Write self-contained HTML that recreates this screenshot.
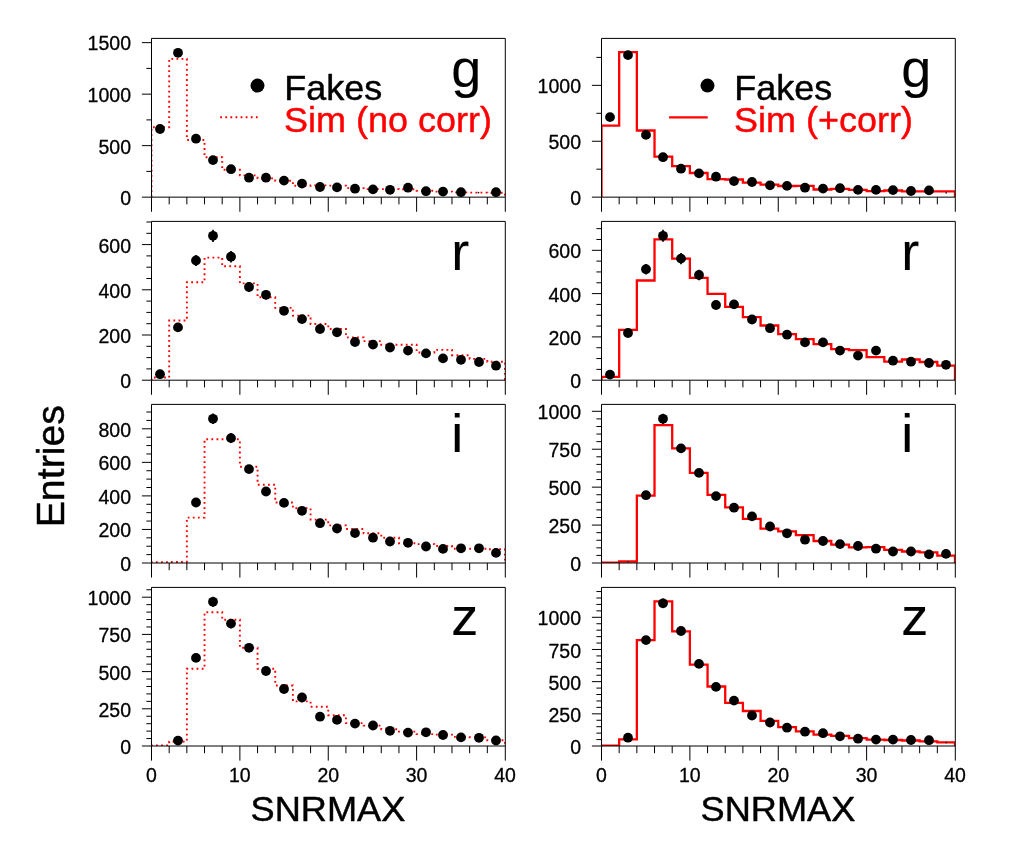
<!DOCTYPE html>
<html lang="en"><head><meta charset="utf-8"><title>SNRMAX distributions: Fakes vs Sim</title>
<style>html,body{margin:0;padding:0;background:#fff}svg{display:block}text{font-family:'Liberation Sans', sans-serif;fill:#000;stroke:#000;stroke-width:.45px;stroke-linejoin:round}.tk{stroke-width:.3px}.bd{stroke-width:.1px}.tk{font-size:19.5px}.ti{font-size:36.2px}.lg{font-size:36px}.bd{font-size:54px}.ax{stroke:#000;stroke-width:1;fill:none}.hd{stroke:#ff0000;stroke-width:1.9;fill:none;stroke-dasharray:1.8 3.3;stroke-linejoin:miter}.hs{stroke:#ff0000;stroke-width:2.3;fill:none;stroke-linejoin:miter}.eb{stroke:#000;stroke-width:1.7}</style></head><body>
<svg width="1034" height="859" viewBox="0 0 1034 859">
<rect width="1034" height="859" fill="#fff"/>
<g id="p00">
<text class="tk" x="131" y="204.65" text-anchor="end">0</text>
<text class="tk" x="131" y="154.15" text-anchor="end">500</text>
<text class="tk" x="131" y="101.65" text-anchor="end">1000</text>
<text class="tk" x="131" y="50.15" text-anchor="end">1500</text>
<clipPath id="c00"><rect x="151.5" y="38.4" width="353.5" height="158.75"/></clipPath>
<path class="hd" clip-path="url(#c00)" d="M151.5 197.15V127.2H169.18V58.9H186.85V140H204.53V157.2H222.2V169.8H239.88V175.4H257.55V178.4H275.23V180.8H292.9V185.8H310.58V185.4H328.25V185.6H345.93V188.1H363.6V189.1H381.27V189.1H398.95V189.3H416.62V190.8H434.3V191.6H451.98V192.4H469.65V192.6H487.32V192.8H505V197.15"/>
<path class="ax" d="M151.5 38.4H505.3V197.15H151.5Z"/>
<path class="ax" d="M141.9 197.15h9.6M146.4 171.4h5.1M141.9 145.65h9.6M146.4 119.9h5.1M141.9 94.15h9.6M146.4 68.4h5.1M141.9 42.65h9.6M151.5 197.15v14.6M169.18 197.15v7.2M186.85 197.15v7.2M204.53 197.15v7.2M222.2 197.15v7.2M239.88 197.15v14.6M257.55 197.15v7.2M275.23 197.15v7.2M292.9 197.15v7.2M310.58 197.15v7.2M328.25 197.15v14.6M345.93 197.15v7.2M363.6 197.15v7.2M381.27 197.15v7.2M398.95 197.15v7.2M416.62 197.15v14.6M434.3 197.15v7.2M451.98 197.15v7.2M469.65 197.15v7.2M487.32 197.15v7.2M505.3 197.15v14.6"/>
<g fill="#000"><circle cx="160" cy="129" r="4.9"/><circle cx="178" cy="52.8" r="4.9"/><circle cx="196" cy="138.7" r="4.9"/><circle cx="213" cy="160.1" r="4.9"/><circle cx="231" cy="169.2" r="4.9"/><circle cx="249" cy="177.7" r="4.9"/><circle cx="266" cy="177.7" r="4.9"/><circle cx="284" cy="180.6" r="4.9"/><circle cx="302" cy="183.6" r="4.9"/><circle cx="320" cy="187" r="4.9"/><circle cx="337" cy="187.4" r="4.9"/><circle cx="355" cy="188.7" r="4.9"/><circle cx="373" cy="189.4" r="4.9"/><circle cx="390" cy="189.8" r="4.9"/><circle cx="408" cy="187.7" r="4.9"/><circle cx="426" cy="191.2" r="4.9"/><circle cx="443" cy="191.6" r="4.9"/><circle cx="461" cy="192.2" r="4.9"/><circle cx="496" cy="192.2" r="4.9"/></g>
<circle cx="478.49" cy="192.6" r="0.9" fill="#222"/>
<text class="bd" x="451.2" y="87.4">g</text>
</g>
<g id="p01">
<text class="tk" x="131" y="388.1" text-anchor="end">0</text>
<text class="tk" x="131" y="342.9" text-anchor="end">200</text>
<text class="tk" x="131" y="298.3" text-anchor="end">400</text>
<text class="tk" x="131" y="253.1" text-anchor="end">600</text>
<clipPath id="c01"><rect x="151.5" y="221.4" width="353.5" height="158.8"/></clipPath>
<path class="hd" clip-path="url(#c01)" d="M151.5 380.2V377.5H169.18V320.5H186.85V282.2H204.53V257.6H222.2V266.3H239.88V283.4H257.55V297.3H275.23V307.9H292.9V315.6H310.58V324H328.25V329H345.93V337.4H363.6V341.1H381.27V344.8H398.95V344.8H416.62V352.5H434.3V349.9H451.98V355.2H469.65V358.9H487.32V361.7H505V380.2"/>
<path class="ax" d="M151.5 221.4H505.3V380.2H151.5Z"/>
<path class="ax" d="M141.9 380.2h9.6M146.4 368.9h5.1M146.4 357.6h5.1M146.4 346.3h5.1M141.9 335h9.6M146.4 323.7h5.1M146.4 312.4h5.1M146.4 301.1h5.1M141.9 289.8h9.6M146.4 278.5h5.1M146.4 267.2h5.1M146.4 255.9h5.1M141.9 244.6h9.6M146.4 233.3h5.1M146.4 222h5.1M151.5 380.2v14.6M169.18 380.2v7.2M186.85 380.2v7.2M204.53 380.2v7.2M222.2 380.2v7.2M239.88 380.2v14.6M257.55 380.2v7.2M275.23 380.2v7.2M292.9 380.2v7.2M310.58 380.2v7.2M328.25 380.2v14.6M345.93 380.2v7.2M363.6 380.2v7.2M381.27 380.2v7.2M398.95 380.2v7.2M416.62 380.2v14.6M434.3 380.2v7.2M451.98 380.2v7.2M469.65 380.2v7.2M487.32 380.2v7.2M505.3 380.2v14.6"/>
<path class="eb" d="M196 254.9V266.1M213 229.69V241.91M231 251.02V262.38M249 282.01V291.99M266 290.01V299.59"/>
<g fill="#000"><circle cx="160" cy="374.2" r="4.9"/><circle cx="178" cy="327.4" r="4.9"/><circle cx="196" cy="260.5" r="4.9"/><circle cx="213" cy="235.8" r="4.9"/><circle cx="231" cy="256.7" r="4.9"/><circle cx="249" cy="287" r="4.9"/><circle cx="266" cy="294.8" r="4.9"/><circle cx="284" cy="310.8" r="4.9"/><circle cx="302" cy="319.1" r="4.9"/><circle cx="320" cy="329" r="4.9"/><circle cx="337" cy="332.3" r="4.9"/><circle cx="355" cy="342" r="4.9"/><circle cx="373" cy="344.6" r="4.9"/><circle cx="390" cy="347.5" r="4.9"/><circle cx="408" cy="350.6" r="4.9"/><circle cx="426" cy="353.4" r="4.9"/><circle cx="443" cy="358.4" r="4.9"/><circle cx="461" cy="359.8" r="4.9"/><circle cx="479" cy="362" r="4.9"/><circle cx="496" cy="365.7" r="4.9"/></g>
<text class="bd" x="451.2" y="270">r</text>
</g>
<g id="p02">
<text class="tk" x="131" y="570.9" text-anchor="end">0</text>
<text class="tk" x="131" y="537.35" text-anchor="end">200</text>
<text class="tk" x="131" y="503.8" text-anchor="end">400</text>
<text class="tk" x="131" y="469.85" text-anchor="end">600</text>
<text class="tk" x="131" y="437.3" text-anchor="end">800</text>
<clipPath id="c02"><rect x="151.5" y="404.4" width="353.5" height="158.6"/></clipPath>
<path class="hd" clip-path="url(#c02)" d="M151.5 563V562.3H169.18V562H186.85V517.6H204.53V439.3H222.2V439.3H239.88V466.7H257.55V484.7H275.23V502.5H292.9V508.3H310.58V519.6H328.25V525.4H345.93V529H363.6V533.3H381.27V537.7H398.95V543.2H416.62V544.1H434.3V546H451.98V548.7H469.65V548.7H487.32V549.3H505V563"/>
<path class="ax" d="M151.5 404.4H505.3V563H151.5Z"/>
<path class="ax" d="M141.9 563h9.6M146.4 554.61h5.1M146.4 546.23h5.1M146.4 537.84h5.1M141.9 529.45h9.6M146.4 521.06h5.1M146.4 512.67h5.1M146.4 504.29h5.1M141.9 495.9h9.6M146.4 487.51h5.1M146.4 479.12h5.1M146.4 470.74h5.1M141.9 462.35h9.6M146.4 453.96h5.1M146.4 445.57h5.1M146.4 437.19h5.1M141.9 428.8h9.6M146.4 420.41h5.1M146.4 412.02h5.1M151.5 563v14.6M169.18 563v7.2M186.85 563v7.2M204.53 563v7.2M222.2 563v7.2M239.88 563v14.6M257.55 563v7.2M275.23 563v7.2M292.9 563v7.2M310.58 563v7.2M328.25 563v14.6M345.93 563v7.2M363.6 563v7.2M381.27 563v7.2M398.95 563v7.2M416.62 563v14.6M434.3 563v7.2M451.98 563v7.2M469.65 563v7.2M487.32 563v7.2M505.3 563v14.6"/>
<path class="eb" d="M213 413.48V424.12M231 433.12V443.08"/>
<g fill="#000"><circle cx="196" cy="502.5" r="4.9"/><circle cx="213" cy="418.8" r="4.9"/><circle cx="231" cy="438.1" r="4.9"/><circle cx="249" cy="469.1" r="4.9"/><circle cx="266" cy="491.5" r="4.9"/><circle cx="284" cy="502.9" r="4.9"/><circle cx="302" cy="510.8" r="4.9"/><circle cx="320" cy="523.2" r="4.9"/><circle cx="337" cy="528.5" r="4.9"/><circle cx="355" cy="533.1" r="4.9"/><circle cx="373" cy="537.7" r="4.9"/><circle cx="390" cy="541.5" r="4.9"/><circle cx="408" cy="542.8" r="4.9"/><circle cx="426" cy="546.5" r="4.9"/><circle cx="443" cy="548.9" r="4.9"/><circle cx="461" cy="548.3" r="4.9"/><circle cx="479" cy="548.3" r="4.9"/><circle cx="496" cy="552.9" r="4.9"/></g>
<text class="bd" x="451.2" y="452.3">i</text>
</g>
<g id="p03">
<text class="tk" x="131" y="753.9" text-anchor="end">0</text>
<text class="tk" x="131" y="716.7" text-anchor="end">250</text>
<text class="tk" x="131" y="679.5" text-anchor="end">500</text>
<text class="tk" x="131" y="641.9" text-anchor="end">750</text>
<text class="tk" x="131" y="604.7" text-anchor="end">1000</text>
<clipPath id="c03"><rect x="151.5" y="587.4" width="353.5" height="158.6"/></clipPath>
<path class="hd" clip-path="url(#c03)" d="M151.5 746V745.4H169.18V741.6H186.85V668.7H204.53V612.2H222.2V619.8H239.88V647.8H257.55V668.7H275.23V685.5H292.9V701.4H310.58V706.8H328.25V715.3H345.93V723.1H363.6V725.6H381.27V729.3H398.95V731.6H416.62V734.1H434.3V734.6H451.98V736.9H469.65V737.4H487.32V740.3H505V746"/>
<path class="ax" d="M151.5 587.4H505.3V746H151.5Z"/>
<path class="ax" d="M141.9 746h9.6M146.4 738.56h5.1M146.4 731.12h5.1M146.4 723.68h5.1M146.4 716.24h5.1M141.9 708.8h9.6M146.4 701.36h5.1M146.4 693.92h5.1M146.4 686.48h5.1M146.4 679.04h5.1M141.9 671.6h9.6M146.4 664.16h5.1M146.4 656.72h5.1M146.4 649.28h5.1M146.4 641.84h5.1M141.9 634.4h9.6M146.4 626.96h5.1M146.4 619.52h5.1M146.4 612.08h5.1M146.4 604.64h5.1M141.9 597.2h9.6M146.4 589.76h5.1M151.5 746v14.6M169.18 746v7.2M186.85 746v7.2M204.53 746v7.2M222.2 746v7.2M239.88 746v14.6M257.55 746v7.2M275.23 746v7.2M292.9 746v7.2M310.58 746v7.2M328.25 746v14.6M345.93 746v7.2M363.6 746v7.2M381.27 746v7.2M398.95 746v7.2M416.62 746v14.6M434.3 746v7.2M451.98 746v7.2M469.65 746v7.2M487.32 746v7.2M505.3 746v14.6"/>
<path class="eb" d="M213 596.77V606.83M231 618.93V628.27"/>
<g fill="#000"><circle cx="178" cy="740.6" r="4.9"/><circle cx="196" cy="657.9" r="4.9"/><circle cx="213" cy="601.8" r="4.9"/><circle cx="231" cy="623.6" r="4.9"/><circle cx="249" cy="647.8" r="4.9"/><circle cx="266" cy="671" r="4.9"/><circle cx="284" cy="689" r="4.9"/><circle cx="302" cy="697.5" r="4.9"/><circle cx="320" cy="716.7" r="4.9"/><circle cx="337" cy="719.9" r="4.9"/><circle cx="355" cy="723.6" r="4.9"/><circle cx="373" cy="725.5" r="4.9"/><circle cx="390" cy="730.8" r="4.9"/><circle cx="408" cy="732.6" r="4.9"/><circle cx="426" cy="732.3" r="4.9"/><circle cx="443" cy="735" r="4.9"/><circle cx="461" cy="737.4" r="4.9"/><circle cx="479" cy="737.8" r="4.9"/><circle cx="496" cy="740.5" r="4.9"/></g>
<text class="bd" x="451.2" y="635.2">z</text>
</g>
<g id="legend0">
<circle cx="257.5" cy="85.6" r="7" fill="#000"/>
<text class="lg" transform="translate(284.3 99.9) scale(1 .965)">Fakes</text>
<path class="hd" d="M220.2 117.3H257.7"/>
<text class="lg" transform="translate(284.1 131.9) scale(1 .965)" style="fill:#ff0000;stroke:#ff0000">Sim (no corr)</text>
</g>
<text class="tk" x="151.5" y="782" text-anchor="middle">0</text>
<text class="tk" x="239.88" y="782" text-anchor="middle">10</text>
<text class="tk" x="328.25" y="782" text-anchor="middle">20</text>
<text class="tk" x="416.62" y="782" text-anchor="middle">30</text>
<text class="tk" x="505" y="782" text-anchor="middle">40</text>
<text class="ti" transform="translate(327.9 820.7) scale(1 .985)" text-anchor="middle">SNRMAX</text>
<g id="p10">
<text class="tk" x="581" y="205.05" text-anchor="end">0</text>
<text class="tk" x="581" y="149.15" text-anchor="end">500</text>
<text class="tk" x="581" y="92.85" text-anchor="end">1000</text>
<clipPath id="c10"><rect x="601.5" y="38.4" width="353.5" height="158.75"/></clipPath>
<path class="hs" clip-path="url(#c10)" d="M601.5 197.15V125.7H619.17V52.2H636.85V130.5H654.52V156.6H672.2V166.2H689.88V173H707.55V179.2H725.23V179.5H742.9V182.6H760.58V184.6H778.25V186H795.92V185.9H813.6V189.5H831.27V188.9H848.95V189.8H866.62V191.1H884.3V190.5H901.98V191.4H919.65V191.4H937.33V191.4H955V197.15"/>
<path class="ax" d="M601.5 38.4H955.3V197.15H601.5Z"/>
<path class="ax" d="M591.9 197.15h9.6M596.4 169.2h5.1M591.9 141.25h9.6M596.4 113.3h5.1M591.9 85.35h9.6M596.4 57.4h5.1M601.5 197.15v14.6M619.17 197.15v7.2M636.85 197.15v7.2M654.52 197.15v7.2M672.2 197.15v7.2M689.88 197.15v14.6M707.55 197.15v7.2M725.23 197.15v7.2M742.9 197.15v7.2M760.58 197.15v7.2M778.25 197.15v14.6M795.92 197.15v7.2M813.6 197.15v7.2M831.27 197.15v7.2M848.95 197.15v7.2M866.62 197.15v14.6M884.3 197.15v7.2M901.98 197.15v7.2M919.65 197.15v7.2M937.33 197.15v7.2M955.3 197.15v14.6"/>
<g fill="#000"><circle cx="610" cy="117.1" r="4.9"/><circle cx="628" cy="55.1" r="4.9"/><circle cx="646" cy="134.9" r="4.9"/><circle cx="663" cy="157.2" r="4.9"/><circle cx="681" cy="168.7" r="4.9"/><circle cx="699" cy="173.4" r="4.9"/><circle cx="716" cy="176.7" r="4.9"/><circle cx="734" cy="181.1" r="4.9"/><circle cx="752" cy="182" r="4.9"/><circle cx="770" cy="185.3" r="4.9"/><circle cx="787" cy="185.9" r="4.9"/><circle cx="805" cy="187.7" r="4.9"/><circle cx="823" cy="188.6" r="4.9"/><circle cx="840" cy="188.2" r="4.9"/><circle cx="858" cy="189.9" r="4.9"/><circle cx="876" cy="189.9" r="4.9"/><circle cx="893" cy="190.1" r="4.9"/><circle cx="911" cy="191" r="4.9"/><circle cx="929" cy="190.4" r="4.9"/></g>
<circle cx="946.16" cy="192.8" r="0.9" fill="#222"/>
<text class="bd" x="901.2" y="87.4">g</text>
</g>
<g id="p11">
<text class="tk" x="581" y="388.1" text-anchor="end">0</text>
<text class="tk" x="581" y="344.8" text-anchor="end">200</text>
<text class="tk" x="581" y="302.1" text-anchor="end">400</text>
<text class="tk" x="581" y="257.8" text-anchor="end">600</text>
<clipPath id="c11"><rect x="601.5" y="221.4" width="353.5" height="158.8"/></clipPath>
<path class="hs" clip-path="url(#c11)" d="M601.5 380.2V376.9H619.17V329.8H636.85V280.5H654.52V239.3H672.2V258.6H689.88V277.9H707.55V293.8H725.23V306.9H742.9V317.2H760.58V325.5H778.25V334.1H795.92V339.1H813.6V344.2H831.27V349.2H848.95V350.1H866.62V357.1H884.3V361.7H901.98V359.5H919.65V362H937.33V365.7H955V380.2"/>
<path class="ax" d="M601.5 221.4H955.3V380.2H601.5Z"/>
<path class="ax" d="M591.9 380.2h9.6M596.4 369.38h5.1M596.4 358.55h5.1M596.4 347.72h5.1M591.9 336.9h9.6M596.4 326.07h5.1M596.4 315.25h5.1M596.4 304.42h5.1M591.9 293.6h9.6M596.4 282.77h5.1M596.4 271.95h5.1M596.4 261.12h5.1M591.9 250.3h9.6M596.4 239.47h5.1M596.4 228.65h5.1M601.5 380.2v14.6M619.17 380.2v7.2M636.85 380.2v7.2M654.52 380.2v7.2M672.2 380.2v7.2M689.88 380.2v14.6M707.55 380.2v7.2M725.23 380.2v7.2M742.9 380.2v7.2M760.58 380.2v7.2M778.25 380.2v14.6M795.92 380.2v7.2M813.6 380.2v7.2M831.27 380.2v7.2M848.95 380.2v7.2M866.62 380.2v14.6M884.3 380.2v7.2M901.98 380.2v7.2M919.65 380.2v7.2M937.33 380.2v7.2M955.3 380.2v14.6"/>
<path class="eb" d="M646 263.9V274.5M663 229.81V241.79M681 253.07V264.13M699 269.83V280.17"/>
<g fill="#000"><circle cx="610" cy="374.6" r="4.9"/><circle cx="628" cy="333" r="4.9"/><circle cx="646" cy="269.2" r="4.9"/><circle cx="663" cy="235.8" r="4.9"/><circle cx="681" cy="258.6" r="4.9"/><circle cx="699" cy="275" r="4.9"/><circle cx="716" cy="305" r="4.9"/><circle cx="734" cy="304.4" r="4.9"/><circle cx="752" cy="319.5" r="4.9"/><circle cx="770" cy="328.2" r="4.9"/><circle cx="787" cy="334.7" r="4.9"/><circle cx="805" cy="342.4" r="4.9"/><circle cx="823" cy="342.4" r="4.9"/><circle cx="840" cy="350.6" r="4.9"/><circle cx="858" cy="355.6" r="4.9"/><circle cx="876" cy="350.6" r="4.9"/><circle cx="893" cy="360.7" r="4.9"/><circle cx="911" cy="361.7" r="4.9"/><circle cx="929" cy="363" r="4.9"/><circle cx="946" cy="364.8" r="4.9"/></g>
<text class="bd" x="901.2" y="270">r</text>
</g>
<g id="p12">
<text class="tk" x="581" y="570.9" text-anchor="end">0</text>
<text class="tk" x="581" y="532.98" text-anchor="end">250</text>
<text class="tk" x="581" y="495.05" text-anchor="end">500</text>
<text class="tk" x="581" y="456.73" text-anchor="end">750</text>
<text class="tk" x="581" y="418.8" text-anchor="end">1000</text>
<clipPath id="c12"><rect x="601.5" y="404.4" width="353.5" height="158.6"/></clipPath>
<path class="hs" clip-path="url(#c12)" d="M601.5 563V562.6H619.17V561.5H636.85V495.7H654.52V425.2H672.2V448.4H689.88V472.9H707.55V494.8H725.23V507.3H742.9V518.9H760.58V528.7H778.25V531.4H795.92V535.1H813.6V541H831.27V544.7H848.95V547.4H866.62V547.1H884.3V549.8H901.98V551.5H919.65V552.4H937.33V555.7H955V563"/>
<path class="ax" d="M601.5 404.4H955.3V563H601.5Z"/>
<path class="ax" d="M591.9 563h9.6M596.4 555.41h5.1M596.4 547.83h5.1M596.4 540.25h5.1M596.4 532.66h5.1M591.9 525.08h9.6M596.4 517.49h5.1M596.4 509.9h5.1M596.4 502.32h5.1M596.4 494.74h5.1M591.9 487.15h9.6M596.4 479.56h5.1M596.4 471.98h5.1M596.4 464.39h5.1M596.4 456.81h5.1M591.9 449.23h9.6M596.4 441.64h5.1M596.4 434.06h5.1M596.4 426.47h5.1M596.4 418.88h5.1M591.9 411.3h9.6M601.5 563v14.6M619.17 563v7.2M636.85 563v7.2M654.52 563v7.2M672.2 563v7.2M689.88 563v14.6M707.55 563v7.2M725.23 563v7.2M742.9 563v7.2M760.58 563v7.2M778.25 563v14.6M795.92 563v7.2M813.6 563v7.2M831.27 563v7.2M848.95 563v7.2M866.62 563v14.6M884.3 563v7.2M901.98 563v7.2M919.65 563v7.2M937.33 563v7.2M955.3 563v14.6"/>
<path class="eb" d="M663 413.72V423.88"/>
<g fill="#000"><circle cx="646" cy="495.2" r="4.9"/><circle cx="663" cy="418.8" r="4.9"/><circle cx="681" cy="448.4" r="4.9"/><circle cx="699" cy="472.9" r="4.9"/><circle cx="716" cy="496.1" r="4.9"/><circle cx="734" cy="507.7" r="4.9"/><circle cx="752" cy="516.4" r="4.9"/><circle cx="770" cy="526.5" r="4.9"/><circle cx="787" cy="533.3" r="4.9"/><circle cx="805" cy="539.7" r="4.9"/><circle cx="823" cy="541" r="4.9"/><circle cx="840" cy="544.1" r="4.9"/><circle cx="858" cy="546" r="4.9"/><circle cx="876" cy="548.7" r="4.9"/><circle cx="893" cy="551.5" r="4.9"/><circle cx="911" cy="551.5" r="4.9"/><circle cx="929" cy="554.4" r="4.9"/><circle cx="946" cy="553.9" r="4.9"/></g>
<circle cx="628.01" cy="561.8" r="0.9" fill="#222"/>
<text class="bd" x="901.2" y="452.3">i</text>
</g>
<g id="p13">
<text class="tk" x="581" y="753.9" text-anchor="end">0</text>
<text class="tk" x="581" y="721.73" text-anchor="end">250</text>
<text class="tk" x="581" y="689.55" text-anchor="end">500</text>
<text class="tk" x="581" y="657.98" text-anchor="end">750</text>
<text class="tk" x="581" y="624.8" text-anchor="end">1000</text>
<clipPath id="c13"><rect x="601.5" y="587.4" width="353.5" height="158.6"/></clipPath>
<path class="hs" clip-path="url(#c13)" d="M601.5 746V745.6H619.17V739.3H636.85V640.1H654.52V601.4H672.2V631.4H689.88V664.6H707.55V686.5H725.23V702.9H742.9V711H760.58V720.8H778.25V727.1H795.92V731.3H813.6V734.6H831.27V735.9H848.95V738.1H866.62V739.6H884.3V740H901.98V740.5H919.65V741.4H937.33V742.4H955V746"/>
<path class="ax" d="M601.5 587.4H955.3V746H601.5Z"/>
<path class="ax" d="M591.9 746h9.6M596.4 739.57h5.1M596.4 733.13h5.1M596.4 726.7h5.1M596.4 720.26h5.1M591.9 713.83h9.6M596.4 707.39h5.1M596.4 700.96h5.1M596.4 694.52h5.1M596.4 688.09h5.1M591.9 681.65h9.6M596.4 675.22h5.1M596.4 668.78h5.1M596.4 662.35h5.1M596.4 655.91h5.1M591.9 649.48h9.6M596.4 643.04h5.1M596.4 636.61h5.1M596.4 630.17h5.1M596.4 623.74h5.1M591.9 617.3h9.6M596.4 610.87h5.1M596.4 604.43h5.1M596.4 598h5.1M596.4 591.56h5.1M601.5 746v14.6M619.17 746v7.2M636.85 746v7.2M654.52 746v7.2M672.2 746v7.2M689.88 746v14.6M707.55 746v7.2M725.23 746v7.2M742.9 746v7.2M760.58 746v7.2M778.25 746v14.6M795.92 746v7.2M813.6 746v7.2M831.27 746v7.2M848.95 746v7.2M866.62 746v14.6M884.3 746v7.2M901.98 746v7.2M919.65 746v7.2M937.33 746v7.2M955.3 746v14.6"/>
<path class="eb" d="M663 598.61V607.99"/>
<g fill="#000"><circle cx="628" cy="737.7" r="4.9"/><circle cx="646" cy="640.1" r="4.9"/><circle cx="663" cy="603.3" r="4.9"/><circle cx="681" cy="631" r="4.9"/><circle cx="699" cy="663.9" r="4.9"/><circle cx="716" cy="686.9" r="4.9"/><circle cx="734" cy="700.6" r="4.9"/><circle cx="752" cy="715.5" r="4.9"/><circle cx="770" cy="722.5" r="4.9"/><circle cx="787" cy="727.7" r="4.9"/><circle cx="805" cy="731.7" r="4.9"/><circle cx="823" cy="733.2" r="4.9"/><circle cx="840" cy="736.3" r="4.9"/><circle cx="858" cy="738.7" r="4.9"/><circle cx="876" cy="739.6" r="4.9"/><circle cx="893" cy="739.6" r="4.9"/><circle cx="911" cy="740" r="4.9"/><circle cx="929" cy="740.2" r="4.9"/></g>
<circle cx="946.16" cy="742.4" r="0.9" fill="#222"/>
<text class="bd" x="901.2" y="635.2">z</text>
</g>
<g id="legend1">
<circle cx="707.5" cy="85.6" r="7" fill="#000"/>
<text class="lg" transform="translate(734.3 99.9) scale(1 .965)">Fakes</text>
<path class="hs" d="M669.1 117.3H707.7"/>
<text class="lg" transform="translate(734.1 131.9) scale(1 .965)" style="fill:#ff0000;stroke:#ff0000">Sim (+corr)</text>
</g>
<text class="tk" x="601.5" y="782" text-anchor="middle">0</text>
<text class="tk" x="689.88" y="782" text-anchor="middle">10</text>
<text class="tk" x="778.25" y="782" text-anchor="middle">20</text>
<text class="tk" x="866.62" y="782" text-anchor="middle">30</text>
<text class="tk" x="955" y="782" text-anchor="middle">40</text>
<text class="ti" transform="translate(777.9 820.7) scale(1 .985)" text-anchor="middle">SNRMAX</text>
<text class="ti" transform="translate(64.1 466.2) rotate(-90)" text-anchor="middle" style="font-size:39.3px">Entries</text>
</svg></body></html>
